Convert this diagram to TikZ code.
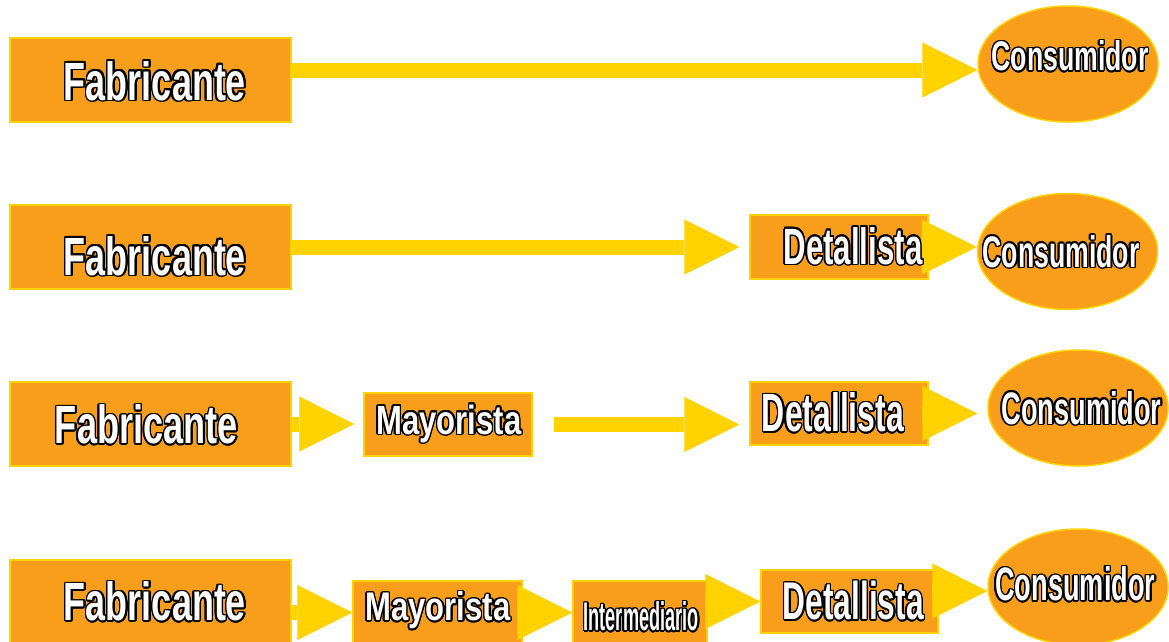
\documentclass[tikz,border=0pt]{standalone}
\usepackage{fontspec}
\setmainfont{Liberation Sans}
\usetikzlibrary{arrows.meta,shapes.geometric}

\definecolor{boxorange}{RGB}{249,158,27}
\definecolor{flowyellow}{RGB}{255,210,0}

% white lettering with a black rim: black copies of the word
% shifted around the white one
\newcommand\rimcopy[2]{\rlap{\hspace*{#1}\raisebox{#2}{\copy0}}}
\newcommand\rimmed[1]{{\setbox0\hbox{#1}\color{black}%
  \rimcopy{1.5pt}{0pt}\rimcopy{-1.5pt}{0pt}\rimcopy{0pt}{1.5pt}\rimcopy{0pt}{-1.5pt}%
  \rimcopy{1.06pt}{1.06pt}\rimcopy{-1.06pt}{1.06pt}\rimcopy{1.06pt}{-1.06pt}\rimcopy{-1.06pt}{-1.06pt}%
  \rimcopy{1.4pt}{0.6pt}\rimcopy{-1.4pt}{0.6pt}\rimcopy{1.4pt}{-0.6pt}\rimcopy{-1.4pt}{-0.6pt}%
  \rimcopy{0.6pt}{1.4pt}\rimcopy{-0.6pt}{1.4pt}\rimcopy{0.6pt}{-1.4pt}\rimcopy{-0.6pt}{-1.4pt}%
  \color{white}\copy0}}
% #1 width, #2 height of the condensed bold word #3
\newcommand\lbl[3]{\rimmed{\resizebox{#1}{#2}{\bfseries #3}}}

\tikzset{
  stage/.style={rectangle, draw=flowyellow, fill=boxorange, line width=1.5pt, inner sep=0pt},
  buyer/.style={ellipse, draw=flowyellow, fill=boxorange, line width=1.5pt, inner sep=0pt,
                minimum width=180pt, minimum height=116pt},
  word/.style={anchor=base, inner sep=0pt},
  flow/.style={draw=flowyellow, line width=15pt,
               -{Triangle[length=55pt,width=55pt,line width=0.1pt]}},
}

\begin{document}
\begin{tikzpicture}[x=1pt,y=-1pt]
\useasboundingbox (0,0) rectangle (1169,641);

% ---- shapes ----
\node[stage, minimum width=281pt, minimum height=84pt] (f1) at (150.5,80) {};
\node[buyer] (c1) at (1068,64) {};

\node[stage, minimum width=281pt, minimum height=84pt] (f2) at (150.5,247) {};
\node[stage, minimum width=178pt, minimum height=64pt] (d2) at (839,247) {};
\node[buyer] (c2) at (1067.5,251.5) {};

\node[stage, minimum width=281pt, minimum height=84pt] (f3) at (150.5,424) {};
\node[stage, minimum width=168pt, minimum height=63pt] (m3) at (448,424.5) {};
\node[stage, minimum width=178pt, minimum height=63pt] (d3) at (839,413.5) {};
\node[buyer] (c3) at (1078,408) {};

\node[stage, minimum width=281pt, minimum height=84pt] (f4) at (150.5,602) {};
\node[stage, minimum width=169pt, minimum height=63pt] (m4) at (437.5,612.5) {};
\node[stage, minimum width=134pt, minimum height=63pt] (i4) at (640,612.5) {};
\node[stage, minimum width=177pt, minimum height=63pt] (d4) at (849.5,601.5) {};
\node[buyer] (c4) at (1078,587) {};

% ---- flows ----
\draw[flow] ([yshift=10pt]f1.east) -- ([yshift=10pt]f1.east -| c1.west);

\draw[flow, shorten >=10pt] (f2.east) -- (d2.west);
\draw[flow] (d2.east) -- (d2.east -| c2.west);

\draw[flow, shorten >=9pt] (f3.east) -- (f3.east -| m3.west);
\draw[flow, shorten <=21pt, shorten >=10pt] (m3.east) -- (m3.east -| d3.west);
\draw[flow, shorten >=10pt] (d3.east) -- (d3.east -| c3.west);

\draw[flow] (m4.west -| f4.east) -- (m4.west);
\draw[flow] (m4.east) -- (i4.west);
\draw[flow] (i4.east |- d4.west) -- (d4.west);
\draw[flow] ([yshift=10.5pt]d4.east) -- ([yshift=10.5pt]d4.east -| c4.west);

% ---- words ----
\node[word] (tf1) at (155,100) {\lbl{182pt}{39pt}{Fabricante}};
\node[word] (tc1) at (1070,70.7) {\lbl{157pt}{30pt}{Consumidor}};

\node[word] (tf2) at (155,275) {\lbl{182pt}{39pt}{Fabricante}};
\node[word] (td2) at (853,264) {\lbl{139pt}{37pt}{Detallista}};
\node[word] (tc2) at (1061,267.3) {\lbl{157pt}{32pt}{Consumidor}};

\node[word] (tf3) at (146.5,443.7) {\lbl{183pt}{39pt}{Fabricante}};
\node[word] (tm3) at (448.8,434) {\lbl{145pt}{29.5pt}{Mayorista}};
\node[word] (td3) at (833,431.7) {\lbl{142pt}{39pt}{Detallista}};
\node[word] (tc3) at (1081.5,424) {\lbl{160pt}{33pt}{Consumidor}};

\node[word] (tf4) at (155,620.7) {\lbl{182pt}{39pt}{Fabricante}};
\node[word] (tm4) at (437.8,620.7) {\lbl{145pt}{29pt}{Mayorista}};
\node[word] (ti4) at (641.2,630.7) {\lbl{115pt}{29pt}{Intermediario}};
\node[word] (td4) at (853.3,619.7) {\lbl{141pt}{38.5pt}{Detallista}};
\node[word] (tc4) at (1075.3,600.7) {\lbl{160pt}{34pt}{Consumidor}};
\end{tikzpicture}
\end{document}
